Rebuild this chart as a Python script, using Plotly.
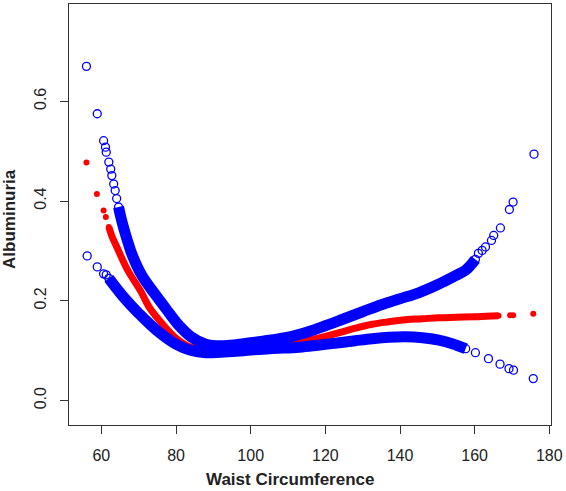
import plotly.graph_objects as go

# ---- data ----
x_upper = [56.0, 58.9, 60.6, 61.1, 61.3, 62.0, 62.5, 62.8, 63.3, 63.7, 64.1, 64.6, 65.2, 65.9, 66.6,
           67.3, 68.2, 70.9, 74.4, 77.3, 80.5, 84.0, 88.0, 92.0, 96.0, 100.0, 105.0, 110.0, 115.0,
           120.0, 125.0, 130.0, 135.0, 140.0, 145.0, 150.0, 155.0, 157.5, 159.0, 160.2, 161.0, 162.0,
           162.9, 164.5, 165.1, 166.9, 169.3, 170.3, 175.9]
y_upper = [0.670, 0.575, 0.521, 0.508, 0.498, 0.478, 0.464, 0.451, 0.434, 0.421, 0.405, 0.388, 0.368,
           0.348, 0.330, 0.313, 0.293, 0.250, 0.213, 0.184, 0.153, 0.128, 0.113, 0.110, 0.112, 0.116,
           0.121, 0.127, 0.137, 0.150, 0.164, 0.178, 0.192, 0.204, 0.216, 0.232, 0.251, 0.261, 0.272,
           0.283, 0.295, 0.301, 0.308, 0.321, 0.331, 0.346, 0.383, 0.398, 0.494]

x_fit = [56.0, 58.8, 60.6, 61.2, 62.0, 62.9, 64.0, 67.0, 70.4, 73.0, 76.2, 80.0, 83.7, 88.0, 95.0,
         100.0, 107.0, 113.0, 118.0, 123.7, 128.0, 132.5, 137.0, 141.5, 146.0, 150.4, 155.0, 160.0,
         163.0, 166.4, 169.5, 170.3, 175.7]
y_fit = [0.477, 0.414, 0.381, 0.368, 0.348, 0.328, 0.310, 0.262, 0.221, 0.185, 0.155, 0.125, 0.108,
         0.103, 0.104, 0.107, 0.112, 0.118, 0.125, 0.136, 0.145, 0.153, 0.158, 0.162, 0.164, 0.166,
         0.167, 0.168, 0.169, 0.170, 0.171, 0.171, 0.174]

x_lower = [56.2, 58.9, 60.6, 61.3, 62.0, 65.9, 70.0, 74.8, 80.0, 83.9, 88.0, 92.0, 98.0, 105.0, 113.0,
           118.0, 123.7, 128.0, 132.5, 137.0, 141.5, 146.0, 150.4, 154.0, 157.6, 160.2, 163.7, 166.8,
           169.2, 170.4, 175.7]
y_lower = [0.290, 0.268, 0.254, 0.252, 0.245, 0.208, 0.175, 0.141, 0.113, 0.101, 0.096, 0.097, 0.100,
           0.104, 0.107, 0.111, 0.116, 0.120, 0.124, 0.127, 0.128, 0.126, 0.121, 0.114, 0.104, 0.096,
           0.084, 0.073, 0.064, 0.061, 0.044]

x_ticks = [60, 80, 100, 120, 140, 160, 180]
y_ticks = [0.0, 0.2, 0.4, 0.6]
x_title = "Waist Circumference"
y_title = "Albuminuria"

# dense (solid-looking) part of each curve
def dense(xs, ys, lo, hi):
    pts = [(a, b) for a, b in zip(xs, ys) if lo <= a <= hi]
    return [p[0] for p in pts], [p[1] for p in pts]

BLUE = "#0000ff"
RED = "#ff0000"

fig = go.Figure()

# fit (red) first, CI (blue) drawn on top
fx, fy = dense(x_fit, y_fit, 62.0, 166.4)
fig.add_trace(go.Scatter(x=fx, y=fy, mode="lines", line=dict(color=RED, width=7, shape="spline"),
                         hoverinfo="skip"))
fig.add_trace(go.Scatter(x=x_fit, y=y_fit, mode="markers",
                         marker=dict(symbol="circle", size=6, color=RED)))

for xs, ys, lo, hi in [(x_upper, y_upper, 64.6, 160.2), (x_lower, y_lower, 62.0, 157.6)]:
    dx, dy = dense(xs, ys, lo, hi)
    fig.add_trace(go.Scatter(x=dx, y=dy, mode="lines",
                             line=dict(color=BLUE, width=11, shape="spline"), hoverinfo="skip"))
    fig.add_trace(go.Scatter(x=xs, y=ys, mode="markers",
                             marker=dict(symbol="circle-open", size=8, color=BLUE,
                                         line=dict(color=BLUE, width=1.3))))

axis_common = dict(showgrid=False, zeroline=False, showline=True, mirror=True,
                   linecolor="#333333", linewidth=1, ticks="outside", ticklen=8,
                   tickcolor="#333333", tickwidth=1, ticklabelstandoff=8,
                   tickfont=dict(family="Liberation Sans, Arial", size=16, color="#222222"))

fig.update_xaxes(range=[51.33, 180.45], tickvals=x_ticks, ticktext=[str(v) for v in x_ticks],
                 **axis_common)
fig.update_yaxes(range=[-0.049, 0.795], tickvals=y_ticks, ticktext=[f"{v:.1f}" for v in y_ticks],
                 tickangle=-90, **axis_common)

fig.update_layout(
    width=566, height=491,
    margin=dict(l=69, r=13, t=3, b=66),
    paper_bgcolor="white", plot_bgcolor="white",
    showlegend=False,
    annotations=[
        dict(text=f"<b>{x_title}</b>", xref="paper", yref="paper", x=0.458, y=-0.130,
             xanchor="center", yanchor="middle", showarrow=False,
             font=dict(family="Liberation Sans, Arial", size=17, color="#222222")),
        dict(text=f"<b>{y_title}</b>", xref="paper", yref="paper", x=-0.122, y=0.49,
             xanchor="center", yanchor="middle", showarrow=False, textangle=-90,
             font=dict(family="Liberation Sans, Arial", size=17, color="#222222")),
    ],
)

fig.write_html("out.html", config={"displayModeBar": False},
               post_script="document.body.style.margin='0';document.body.style.padding='0';")
